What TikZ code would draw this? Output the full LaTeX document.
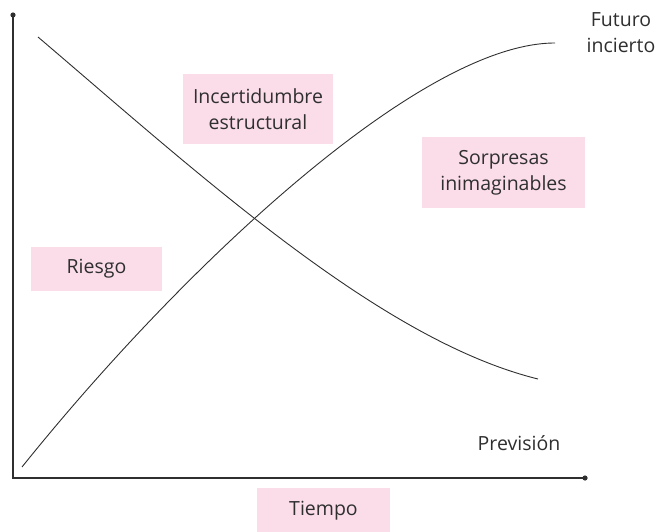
\documentclass[tikz,border=0pt]{standalone}
\usepackage{fontspec}
\setmainfont{Open Sans}
\definecolor{ink}{HTML}{2F2F2F}
\definecolor{tag}{HTML}{FBDDEA}
\begin{document}
\begin{tikzpicture}[x=1pt,y=-1pt,
  axis/.style={draw=ink,line width=1.1pt},
  curve/.style={draw=ink,line width=0.9pt},
  tagbox/.style={fill=tag,text=ink,font=\fontsize{19.5}{26}\selectfont,align=center,inner sep=0pt},
  lbl/.style={text=ink,font=\fontsize{19.5}{26}\selectfont,align=center}]
\useasboundingbox (0,0) rectangle (658,532);
% axes
\coordinate (top) at (13,15);
\coordinate (origin) at (13,478);
\coordinate (right) at (585,478);
\draw[axis] (top) -- (origin) -- (right);
\fill[ink] (top) circle (2.6pt);
\fill[ink] (right) circle (2.6pt);
% curves
\coordinate (d0) at (38,37);
\coordinate (d1) at (538,379);
\coordinate (a0) at (22,467);
\coordinate (a1) at (555,43);
\draw[curve] (d0) .. controls (200,175) and (380,340) .. (d1);
\draw[curve] (a0) .. controls (180,270) and (420,43) .. (a1);
% labels
\node[tagbox,minimum width=150pt,minimum height=70pt] (inc) at (258,109) {Incertidumbre\\estructural};
\node[tagbox,minimum width=163pt,minimum height=71pt] (sor) at (503.5,172.5) {Sorpresas\\inimaginables};
\node[tagbox,minimum width=131pt,minimum height=44pt] (rie) at (96.5,269) {Riesgo};
\node[tagbox,minimum width=133pt,minimum height=44pt,anchor=north] (tie) at (323.5,488) {Tiempo};
\node[lbl] (fut) at (621,33) {Futuro\\incierto};
\node[lbl] (pre) at (519,443) {Previsión};
\end{tikzpicture}
\end{document}
